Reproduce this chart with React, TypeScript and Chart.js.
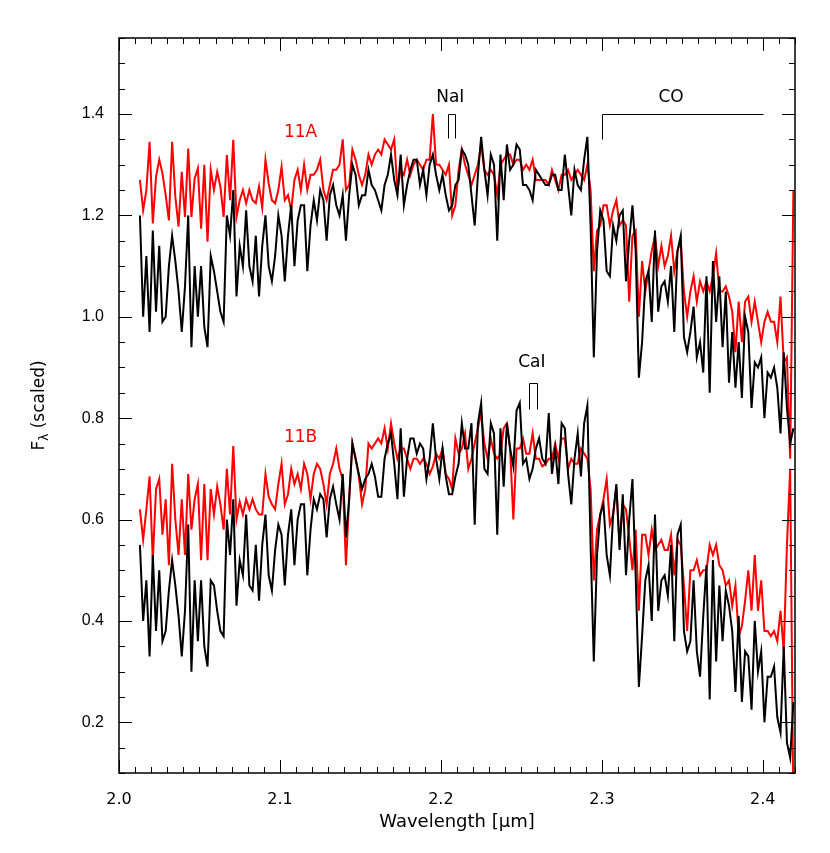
import React, { useEffect, useRef } from 'react';
import { Chart, registerables } from 'chart.js';

Chart.register(...registerables);

// Wavelength grid (µm)
const wavelength = [
  2.013, 2.015, 2.017, 2.019, 2.021, 2.023, 2.025, 2.027, 2.029, 2.031,
  2.033, 2.035, 2.037, 2.039, 2.041, 2.043, 2.045, 2.047, 2.049, 2.051,
  2.053, 2.055, 2.057, 2.059, 2.061, 2.063, 2.065, 2.067, 2.069, 2.071,
  2.073, 2.075, 2.077, 2.079, 2.081, 2.083, 2.085, 2.087, 2.089, 2.091,
  2.093, 2.095, 2.097, 2.099, 2.101, 2.103, 2.105, 2.107, 2.109, 2.111,
  2.113, 2.115, 2.117, 2.119, 2.121, 2.123, 2.125, 2.127, 2.129, 2.131,
  2.133, 2.135, 2.137, 2.139, 2.141, 2.143, 2.145, 2.147, 2.149, 2.151,
  2.153, 2.155, 2.157, 2.159, 2.161, 2.163, 2.165, 2.167, 2.169, 2.171,
  2.173, 2.175, 2.177, 2.179, 2.181, 2.183, 2.185, 2.187, 2.189, 2.191,
  2.193, 2.195, 2.197, 2.199, 2.201, 2.203, 2.205, 2.207, 2.209, 2.211,
  2.213, 2.215, 2.217, 2.219, 2.221, 2.223, 2.225, 2.227, 2.229, 2.231,
  2.233, 2.235, 2.237, 2.239, 2.241, 2.243, 2.245, 2.247, 2.249, 2.251,
  2.253, 2.255, 2.257, 2.259, 2.261, 2.263, 2.265, 2.267, 2.269, 2.271,
  2.273, 2.275, 2.277, 2.279, 2.281, 2.283, 2.285, 2.287, 2.289, 2.291,
  2.293, 2.295, 2.297, 2.299, 2.301, 2.303, 2.305, 2.307, 2.309, 2.311,
  2.313, 2.315, 2.317, 2.319, 2.321, 2.323, 2.325, 2.327, 2.329, 2.331,
  2.333, 2.335, 2.337, 2.339, 2.341, 2.343, 2.345, 2.347, 2.349, 2.351,
  2.353, 2.355, 2.357, 2.359, 2.361, 2.363, 2.365, 2.367, 2.369, 2.371,
  2.373, 2.375, 2.377, 2.379, 2.381, 2.383, 2.385, 2.387, 2.389, 2.391,
  2.393, 2.395, 2.397, 2.399, 2.401, 2.403, 2.405, 2.407, 2.409, 2.411,
  2.413, 2.415, 2.417, 2.419,
];

const black11A = [
  1.20, 1.00, 1.12, 0.97, 1.17, 1.01, 1.14, 0.99, 1.00, 1.10,
  1.16, 1.11, 1.05, 0.97, 1.06, 1.20, 0.94, 1.10, 1.00, 1.10,
  0.98, 0.94, 1.12, 1.09, 1.05, 1.01, 0.99, 1.20, 1.16, 1.25,
  1.04, 1.14, 1.10, 1.21, 1.10, 1.07, 1.16, 1.04, 1.14, 1.20,
  1.10, 1.07, 1.12, 1.20, 1.16, 1.07, 1.16, 1.22, 1.10, 1.19,
  1.22, 1.22, 1.09, 1.18, 1.23, 1.19, 1.25, 1.23, 1.15, 1.24,
  1.26, 1.22, 1.20, 1.24, 1.15, 1.24, 1.30, 1.28, 1.22, 1.24,
  1.24, 1.29, 1.26, 1.25, 1.23, 1.21, 1.26, 1.28, 1.32, 1.27,
  1.24, 1.32, 1.22, 1.26, 1.29, 1.31, 1.31, 1.26, 1.29, 1.24,
  1.30, 1.32, 1.28, 1.25, 1.28, 1.24, 1.21, 1.22, 1.26, 1.27,
  1.33, 1.32, 1.30, 1.24, 1.18, 1.28, 1.355, 1.29, 1.24, 1.32,
  1.30, 1.15, 1.32, 1.23, 1.34, 1.29, 1.30, 1.34, 1.33, 1.26,
  1.26, 1.25, 1.23, 1.29, 1.28, 1.27, 1.26, 1.26, 1.28, 1.28,
  1.25, 1.25, 1.32, 1.26, 1.20, 1.29, 1.26, 1.25, 1.31, 1.355,
  1.18, 0.92, 1.13, 1.21, 1.19, 1.09, 1.08, 1.18, 1.15, 1.20,
  1.21, 1.07, 1.15, 1.22, 1.13, 0.88, 0.95, 1.07, 1.09, 0.99,
  1.17, 1.01, 1.06, 1.07, 1.03, 1.10, 0.97, 1.13, 1.16, 0.96,
  0.93, 0.97, 1.02, 0.92, 0.95, 0.89, 1.08, 0.85, 1.11, 0.99,
  1.08, 0.94, 1.05, 0.87, 0.97, 0.86, 0.95, 0.84, 1.00, 0.97,
  0.82, 0.91, 0.90, 0.92, 0.80, 0.89, 0.88, 0.90, 0.86, 0.77,
  0.93, 0.82, 0.75, 0.78,
];

const red11A = [
  1.27, 1.21, 1.25, 1.345, 1.184, 1.276, 1.31, 1.283, 1.24, 1.19,
  1.345, 1.237, 1.178, 1.286, 1.197, 1.332, 1.197, 1.273, 1.293, 1.174,
  1.30, 1.148, 1.29, 1.25, 1.286, 1.257, 1.197, 1.319, 1.23, 1.349,
  1.197, 1.23, 1.25, 1.224, 1.25, 1.23, 1.224, 1.257, 1.215, 1.31,
  1.263, 1.23, 1.224, 1.25, 1.296, 1.23, 1.24, 1.21, 1.27, 1.29,
  1.25, 1.30, 1.25, 1.28, 1.28, 1.29, 1.31, 1.25, 1.23, 1.26,
  1.29, 1.29, 1.30, 1.35, 1.25, 1.26, 1.33, 1.31, 1.28, 1.26,
  1.28, 1.32, 1.30, 1.32, 1.33, 1.32, 1.35, 1.34, 1.33, 1.35,
  1.25, 1.29, 1.28, 1.31, 1.28, 1.30, 1.31, 1.30, 1.29, 1.31,
  1.31, 1.40, 1.30, 1.30, 1.29, 1.28, 1.30, 1.20, 1.22, 1.29,
  1.33, 1.30, 1.28, 1.26, 1.28, 1.30, 1.34, 1.29, 1.28, 1.29,
  1.28, 1.24, 1.30, 1.31, 1.32, 1.32, 1.30, 1.31, 1.31, 1.29,
  1.30, 1.29, 1.31, 1.27, 1.27, 1.27, 1.27, 1.26, 1.29, 1.27,
  1.25, 1.28, 1.28, 1.29, 1.27, 1.28, 1.29, 1.28, 1.27, 1.30,
  1.25, 1.09, 1.17, 1.18, 1.22, 1.22, 1.18, 1.21, 1.23, 1.18,
  1.19, 1.18, 1.03, 1.16, 1.17, 1.00, 1.11, 1.05, 1.09, 1.13,
  1.16, 1.10, 1.14, 1.10, 1.12, 1.16, 1.09, 1.13, 1.15, 1.05,
  1.00, 1.05, 1.08, 1.03, 1.07, 1.05, 1.07, 1.05, 1.08, 1.125,
  1.05, 1.05, 1.06, 1.04, 1.01, 0.93, 1.03, 0.95, 1.03, 1.04,
  0.99, 1.03, 0.99, 0.95, 0.99, 1.01, 0.99, 0.99, 0.95, 1.04,
  0.91, 0.92, 0.72, 1.25,
];

const black11B = [
  0.55, 0.40, 0.48, 0.33, 0.53, 0.38, 0.50, 0.36, 0.38, 0.46,
  0.52, 0.47, 0.41, 0.33, 0.42, 0.59, 0.30, 0.48, 0.36, 0.48,
  0.35, 0.31, 0.48, 0.47, 0.42, 0.38, 0.37, 0.60, 0.53, 0.64,
  0.43, 0.52, 0.49, 0.61, 0.47, 0.46, 0.55, 0.44, 0.55, 0.61,
  0.49, 0.46, 0.54, 0.59, 0.57, 0.47, 0.57, 0.62, 0.51, 0.60,
  0.63, 0.63, 0.49, 0.58, 0.64, 0.62, 0.65, 0.64, 0.565, 0.64,
  0.665, 0.63, 0.60, 0.69, 0.565, 0.64, 0.75, 0.72, 0.69, 0.66,
  0.68, 0.69, 0.71, 0.685, 0.645, 0.645, 0.72, 0.75, 0.77, 0.71,
  0.64, 0.78, 0.645, 0.72, 0.76, 0.76, 0.73, 0.75, 0.74, 0.68,
  0.72, 0.79, 0.72, 0.68, 0.74, 0.685, 0.65, 0.65, 0.685, 0.71,
  0.79, 0.74, 0.74, 0.79, 0.59, 0.79, 0.83, 0.70, 0.69, 0.79,
  0.77, 0.57, 0.78, 0.665, 0.79, 0.74, 0.705, 0.815, 0.83, 0.71,
  0.72, 0.68, 0.70, 0.74, 0.76, 0.72, 0.71, 0.81, 0.69, 0.74,
  0.67, 0.79, 0.78, 0.69, 0.63, 0.72, 0.77, 0.685, 0.79, 0.825,
  0.55, 0.32, 0.53, 0.61, 0.63, 0.53, 0.49, 0.61, 0.67, 0.54,
  0.65, 0.49, 0.60, 0.68, 0.49, 0.27, 0.37, 0.48, 0.51, 0.40,
  0.61, 0.42, 0.48, 0.49, 0.45, 0.55, 0.36, 0.57, 0.59, 0.38,
  0.34, 0.36, 0.48, 0.34, 0.29, 0.41, 0.51, 0.245, 0.52, 0.32,
  0.47, 0.36, 0.46, 0.43, 0.38, 0.26, 0.41, 0.24, 0.34, 0.33,
  0.225, 0.40, 0.30, 0.34, 0.20, 0.29, 0.29, 0.31, 0.21, 0.18,
  0.35, 0.16, 0.13, 0.24,
];

const red11B = [
  0.62, 0.56, 0.62, 0.685, 0.52, 0.66, 0.68, 0.57, 0.64, 0.51,
  0.71, 0.60, 0.53, 0.64, 0.53, 0.69, 0.58, 0.64, 0.67, 0.52,
  0.67, 0.52, 0.66, 0.61, 0.665, 0.63, 0.58, 0.70, 0.61, 0.745,
  0.60, 0.635, 0.61, 0.64, 0.62, 0.64, 0.62, 0.61, 0.61, 0.69,
  0.645, 0.63, 0.62, 0.67, 0.71, 0.63, 0.65, 0.70, 0.67, 0.69,
  0.66, 0.71, 0.69, 0.64, 0.69, 0.71, 0.70, 0.67, 0.63, 0.69,
  0.71, 0.74, 0.70, 0.68, 0.51, 0.64, 0.75, 0.72, 0.685, 0.63,
  0.66, 0.75, 0.74, 0.75, 0.76, 0.75, 0.78, 0.74, 0.79, 0.75,
  0.72, 0.74, 0.74, 0.72, 0.70, 0.72, 0.72, 0.71, 0.72, 0.71,
  0.69, 0.705, 0.73, 0.72, 0.74, 0.69, 0.68, 0.66, 0.76, 0.73,
  0.74, 0.77, 0.70, 0.72, 0.75, 0.78, 0.81, 0.75, 0.72, 0.76,
  0.73, 0.72, 0.73, 0.78, 0.79, 0.74, 0.60, 0.74, 0.74, 0.76,
  0.73, 0.73, 0.77, 0.72, 0.72, 0.705, 0.71, 0.72, 0.72, 0.75,
  0.72, 0.76, 0.76, 0.70, 0.72, 0.71, 0.71, 0.74, 0.73, 0.72,
  0.66, 0.48, 0.58, 0.61, 0.64, 0.68, 0.59, 0.61, 0.665, 0.55,
  0.63, 0.62, 0.565, 0.50, 0.58, 0.42, 0.57, 0.57, 0.53, 0.58,
  0.54, 0.55, 0.56, 0.54, 0.54, 0.57, 0.49, 0.56, 0.55, 0.47,
  0.38, 0.50, 0.50, 0.52, 0.49, 0.50, 0.50, 0.55, 0.53, 0.55,
  0.51, 0.50, 0.47, 0.48, 0.43, 0.47, 0.37, 0.39, 0.44, 0.50,
  0.42, 0.53, 0.42, 0.48, 0.38, 0.38, 0.37, 0.38, 0.36, 0.42,
  0.34, 0.55, 0.70, 0.02,
];

const xTickLabels = [2.0, 2.1, 2.2, 2.3, 2.4];
const yTickLabels = [0.2, 0.4, 0.6, 0.8, 1.0, 1.2, 1.4];

const xTitle = 'Wavelength [\u03bcm]';
const yTitleMain = 'F';
const yTitleSub = '\u03bb';
const yTitleRest = ' (scaled)';

const seriesLabels = [
  { text: '11A', x: 2.1128, y: 1.364 },
  { text: '11B', x: 2.1128, y: 0.761 },
];

const lineLabels = [
  { text: 'NaI', x: 2.2058, y: 1.433 },
  { text: 'CO', x: 2.343, y: 1.433 },
  { text: 'CaI', x: 2.2565, y: 0.91 },
];

const brackets = [
  [[2.2043, 1.352], [2.2043, 1.4], [2.2088, 1.4], [2.2088, 1.352]],
  [[2.3, 1.35], [2.3, 1.4], [2.4, 1.4]],
  [[2.255, 0.819], [2.255, 0.87], [2.26, 0.87], [2.26, 0.819]],
];

const RED = '#ff0000';
const BLACK = '#000000';
const ANNOT_FONT = '17px "DejaVu Sans"';

const toPoints = (ys: number[]) => wavelength.map((x, i) => ({ x, y: ys[i] }));

const framePlugin = {
  id: 'idlFrame',
  afterDatasetsDraw(chart: any) {
    const { ctx, chartArea: a, scales } = chart;
    const xs = scales.x;
    const ys = scales.y;
    ctx.save();

    ctx.strokeStyle = BLACK;
    ctx.lineWidth = 1;
    for (const br of brackets) {
      ctx.beginPath();
      br.forEach((p: number[], i: number) => {
        const px = Math.round(xs.getPixelForValue(p[0])) + 0.5;
        const py = Math.round(ys.getPixelForValue(p[1])) + 0.5;
        if (i === 0) ctx.moveTo(px, py);
        else ctx.lineTo(px, py);
      });
      ctx.stroke();
    }

    ctx.font = ANNOT_FONT;
    ctx.textAlign = 'center';
    ctx.textBaseline = 'middle';
    ctx.fillStyle = BLACK;
    for (const t of lineLabels) {
      ctx.fillText(t.text, xs.getPixelForValue(t.x), ys.getPixelForValue(t.y));
    }
    ctx.fillStyle = RED;
    for (const t of seriesLabels) {
      ctx.fillText(t.text, xs.getPixelForValue(t.x), ys.getPixelForValue(t.y));
    }

    ctx.strokeStyle = BLACK;
    ctx.lineWidth = 1.5;
    ctx.strokeRect(a.left, a.top, a.right - a.left, a.bottom - a.top);

    ctx.lineWidth = 1;
    ctx.beginPath();
    for (let i = 0; i <= 42; i++) {
      const v = 2.0 + i * 0.01;
      const px = Math.round(xs.getPixelForValue(v)) + 0.5;
      const len = i % 10 === 0 ? 13 : 6;
      ctx.moveTo(px, a.bottom);
      ctx.lineTo(px, a.bottom - len);
      ctx.moveTo(px, a.top);
      ctx.lineTo(px, a.top + len);
    }
    for (let i = 2; i <= 31; i++) {
      const v = i * 0.05;
      const py = Math.round(ys.getPixelForValue(v)) + 0.5;
      const len = i % 4 === 0 ? 13 : 6;
      ctx.moveTo(a.left, py);
      ctx.lineTo(a.left + len, py);
      ctx.moveTo(a.right, py);
      ctx.lineTo(a.right - len, py);
    }
    ctx.stroke();

    ctx.fillStyle = BLACK;
    ctx.font = '18px "DejaVu Sans"';
    ctx.textAlign = 'center';
    ctx.textBaseline = 'middle';
    ctx.fillText(xTitle, (a.left + a.right) / 2, 822);

    ctx.translate(38, (a.top + a.bottom) / 2);
    ctx.rotate(-Math.PI / 2);
    const mainFont = '17px "DejaVu Sans"';
    const subFont = '12px "DejaVu Sans"';
    ctx.font = mainFont;
    const w1 = ctx.measureText(yTitleMain).width;
    const w3 = ctx.measureText(yTitleRest).width;
    ctx.font = subFont;
    const w2 = ctx.measureText(yTitleSub).width;
    const total = w1 + w2 + w3;
    let cx = -total / 2;
    ctx.textAlign = 'left';
    ctx.textBaseline = 'alphabetic';
    ctx.font = mainFont;
    ctx.fillText(yTitleMain, cx, 6);
    cx += w1;
    ctx.font = subFont;
    ctx.fillText(yTitleSub, cx, 10);
    cx += w2;
    ctx.font = mainFont;
    ctx.fillText(yTitleRest, cx, 6);

    ctx.restore();
  },
};

export default function App() {
  const ref = useRef<HTMLCanvasElement>(null);

  useEffect(() => {
    if (!ref.current) return;
    const chart = new Chart(ref.current, {
      type: 'line',
      data: {
        datasets: [
          { label: '11A black', data: toPoints(black11A), borderColor: BLACK, borderWidth: 2, pointRadius: 0, tension: 0, clip: 0 },
          { label: '11B black', data: toPoints(black11B), borderColor: BLACK, borderWidth: 2, pointRadius: 0, tension: 0, clip: 0 },
          { label: '11A red', data: toPoints(red11A), borderColor: RED, borderWidth: 2, pointRadius: 0, tension: 0, clip: 0 },
          { label: '11B red', data: toPoints(red11B), borderColor: RED, borderWidth: 2, pointRadius: 0, tension: 0, clip: 0 },
        ],
      },
      options: {
        animation: false,
        responsive: false,
        devicePixelRatio: 1,
        layout: { padding: { top: 38, right: 35, left: 0, bottom: 0 } },
        plugins: { legend: { display: false }, tooltip: { enabled: false } },
        scales: {
          x: {
            type: 'linear',
            min: 2.0,
            max: 2.42,
            grid: { display: false, drawTicks: false },
            border: { display: false },
            afterBuildTicks: (s: any) => {
              s.ticks = xTickLabels.map((value) => ({ value }));
            },
            afterFit: (s: any) => {
              s.height = 80;
            },
            ticks: {
              color: BLACK,
              padding: 17,
              maxRotation: 0,
              autoSkip: false,
              font: { family: 'DejaVu Sans', size: 16 },
              callback: (v: any) => Number(v).toFixed(1),
            },
          },
          y: {
            type: 'linear',
            min: 0.1,
            max: 1.55,
            grid: { display: false, drawTicks: false },
            border: { display: false },
            afterBuildTicks: (s: any) => {
              s.ticks = yTickLabels.map((value) => ({ value }));
            },
            afterFit: (s: any) => {
              s.width = 119;
            },
            ticks: {
              color: BLACK,
              padding: 15,
              autoSkip: false,
              font: { family: 'Liberation Sans', size: 16 },
              callback: (v: any) => Number(v).toFixed(1),
            },
          },
        },
      },
      plugins: [framePlugin],
    } as any);
    return () => chart.destroy();
  }, []);

  return (
    <div style={{ position: 'absolute', left: 0, top: 0, width: 830, height: 853, background: '#ffffff' }}>
      <canvas ref={ref} width={830} height={853} style={{ display: 'block', width: 830, height: 853 }} />
    </div>
  );
}
